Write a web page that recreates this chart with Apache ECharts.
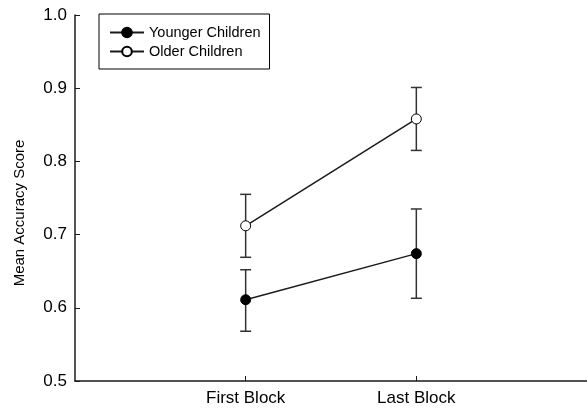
<!DOCTYPE html>
<html>
<head>
<meta charset="utf-8">
<script src="https://cdn.jsdelivr.net/npm/echarts@6/dist/echarts.min.js"></script>
<style>html,body{margin:0;padding:0;background:#fff}#c{width:587px;height:411px}</style>
</head>
<body>
<div id="c"></div>
<script>
const categories = ['First Block', 'Last Block'];
const categoryPositions = [1, 2];
const youngerMean = [0.611, 0.674];
const youngerUpper = [0.652, 0.735];
const youngerLower = [0.568, 0.613];
const olderMean = [0.712, 0.858];
const olderUpper = [0.755, 0.901];
const olderLower = [0.669, 0.815];
const yTicks = [0.5, 0.6, 0.7, 0.8, 0.9, 1.0];

const font = 'Liberation Sans, Arial, sans-serif';
const ink = '#1a1a1a';

function errData(lo, hi) {
  return categoryPositions.map((x, i) => [x, lo[i], hi[i]]);
}
function errRender(params, api) {
  const x = api.value(0);
  const lo = api.coord([x, api.value(1)]);
  const hi = api.coord([x, api.value(2)]);
  const w = 5.5;
  const style = { stroke: '#333', lineWidth: 1.5 };
  return {
    type: 'group',
    children: [
      { type: 'line', shape: { x1: lo[0], y1: lo[1], x2: hi[0], y2: hi[1] }, style },
      { type: 'line', shape: { x1: lo[0] - w, y1: lo[1], x2: lo[0] + w, y2: lo[1] }, style },
      { type: 'line', shape: { x1: hi[0] - w, y1: hi[1], x2: hi[0] + w, y2: hi[1] }, style }
    ]
  };
}

const chart = echarts.init(document.getElementById('c'), null, { renderer: 'canvas' });
chart.setOption({
  animation: false,
  backgroundColor: '#fff',
  grid: { left: 75, top: 15, right: 0, bottom: 30, containLabel: false },
  legend: {
    orient: 'vertical',
    left: 99, top: 14,
    padding: [11, 9, 10, 10],
    borderColor: '#000', borderWidth: 1,
    itemWidth: 34, itemHeight: 12, itemGap: 4,
    textStyle: { fontFamily: font, fontSize: 14.5, color: '#000', padding: [0, 0, 0, 0] },
    data: ['Younger Children', 'Older Children']
  },
  xAxis: {
    type: 'value', min: 0, max: 3, interval: 1,
    axisLine: { show: true, lineStyle: { color: ink, width: 1.5 } },
    axisTick: { show: true, inside: true, length: 5, lineStyle: { color: ink }, customValues: categoryPositions },
    axisLabel: {
      customValues: categoryPositions,
      formatter: v => categories[categoryPositions.indexOf(v)] || '',
      fontFamily: font, fontSize: 17, color: '#000', margin: 9
    },
    splitLine: { show: false }
  },
  yAxis: {
    type: 'value', min: 0.5, max: 1.0, interval: 0.1,
    name: 'Mean Accuracy Score', nameLocation: 'middle', nameGap: 48,
    nameTextStyle: { fontFamily: font, fontSize: 15, color: '#000', padding: [0, 30, 0, 0] },
    axisLine: { show: true, lineStyle: { color: ink, width: 1.5 } },
    axisTick: { show: true, inside: true, length: 5, lineStyle: { color: ink } },
    axisLabel: {
      formatter: v => yTicks.find(t => Math.abs(t - v) < 1e-6).toFixed(1),
      fontFamily: font, fontSize: 17, color: '#000', margin: 8
    },
    splitLine: { show: false }
  },
  series: [
    { type: 'custom', name: 'errY', renderItem: errRender, data: errData(youngerLower, youngerUpper), z: 1, encode: { x: 0, y: [1, 2] } },
    { type: 'custom', name: 'errO', renderItem: errRender, data: errData(olderLower, olderUpper), z: 1, encode: { x: 0, y: [1, 2] } },
    {
      type: 'line', name: 'Younger Children',
      data: categoryPositions.map((x, i) => [x, youngerMean[i]]),
      symbol: 'circle', symbolSize: 10,
      lineStyle: { color: ink, width: 1.5 },
      itemStyle: { color: '#000', borderColor: '#000', borderWidth: 1 },
      z: 3
    },
    {
      type: 'line', name: 'Older Children',
      data: categoryPositions.map((x, i) => [x, olderMean[i]]),
      symbol: 'circle', symbolSize: 10,
      lineStyle: { color: ink, width: 1.5 },
      itemStyle: { color: '#fff', borderColor: '#000', borderWidth: 1 },
      z: 3
    }
  ]
});
</script>
</body>
</html>
